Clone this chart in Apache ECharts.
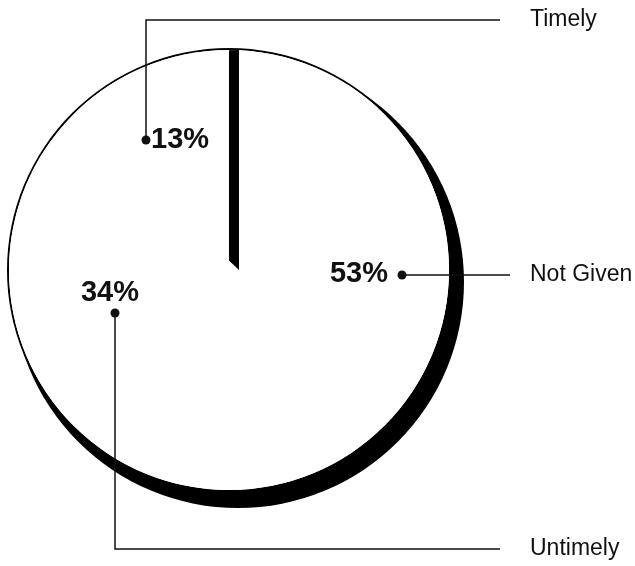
<!DOCTYPE html>
<html>
<head>
<meta charset="utf-8">
<script src="https://cdn.jsdelivr.net/npm/echarts@6/dist/echarts.min.js"></script>
<style>
html,body{margin:0;padding:0;background:#fff;}
#chart{width:635px;height:566px;}
</style>
</head>
<body>
<div id="chart"></div>
<script>
// Data
const categories = ['Not Given', 'Untimely', 'Timely'];
const percents = [53, 34, 13];

// Layout (pixels)
const CX = 229, CY = 270, R = 220;
const dotPos = [[402, 275], [115, 313], [146, 140]];
const nameY = [275, 549, 20];
const lineEndX = [510, 500, 500];
const NAME_X = 530;
const FONT = "'Liberation Sans', Arial, Helvetica, sans-serif";

const chart = echarts.init(document.getElementById('chart'), null, {renderer: 'canvas'});

const pieData = categories.map((c, i) => ({name: c, value: percents[i]}));

function disc(z, center, radius, color, name) {
  return {
    type: 'pie', z: z, silent: true,
    center: center, radius: radius,
    startAngle: 90, clockwise: true,
    label: {show: false}, labelLine: {show: false},
    itemStyle: {color: color, borderWidth: 0},
    emphasis: {disabled: true},
    data: [{name: name, value: 1}]
  };
}

const option = {
  backgroundColor: '#fff',
  animation: false,
  series: [
    disc(1, [CX + 9, CY + 12], R + 6, '#000', 'side'),   // dark side of the disc
    disc(2, [CX, CY], R + 2, '#000', 'outline'),         // outline
    disc(3, [CX, CY], R, '#fff', 'face'),                // white face under slices
    { // main pie with percentage labels
      type: 'pie', z: 4, silent: true,
      center: [CX, CY], radius: R,
      startAngle: 90, clockwise: true,
      avoidLabelOverlap: false,
      emphasis: {disabled: true},
      itemStyle: {color: '#fff', borderWidth: 0},
      label: {
        show: true, position: 'outside',
        formatter: '{c}%',
        fontFamily: FONT, fontSize: 29, fontWeight: 'bold', color: '#111'
      },
      labelLine: {show: false},
      labelLayout: function (p) {
        const d = dotPos[p.dataIndex];
        if (p.dataIndex === 0) return {x: d[0] - 14, y: d[1] - 1, align: 'right', verticalAlign: 'middle'};
        if (p.dataIndex === 1) return {x: d[0] - 5, y: d[1] - 20, align: 'center', verticalAlign: 'middle'};
        return {x: d[0] + 5, y: d[1], align: 'left', verticalAlign: 'middle'};
      },
      data: pieData.map((d, i) => i === 2 ? Object.assign({}, d, {
        itemStyle: {color: '#fff', borderWidth: 0,
          shadowColor: '#000', shadowBlur: 0, shadowOffsetX: 10, shadowOffsetY: 0}
      }) : d)
    },
    { // category names with leader lines
      type: 'pie', z: 5, silent: true,
      center: [CX, CY], radius: R,
      startAngle: 90, clockwise: true,
      avoidLabelOverlap: false,
      emphasis: {disabled: true},
      itemStyle: {color: 'rgba(0,0,0,0)', borderWidth: 0},
      label: {
        show: true, position: 'outside', formatter: '{b}',
        fontFamily: FONT, fontSize: 23, color: '#111'
      },
      labelLine: {show: true, lineStyle: {color: '#111', width: 1.5}},
      labelLayout: function (p) {
        const i = p.dataIndex;
        const d = dotPos[i];
        const pts = [d, [d[0], nameY[i]], [lineEndX[i], nameY[i]]];
        return {x: NAME_X, y: nameY[i], align: 'left', verticalAlign: 'middle', labelLinePoints: pts};
      },
      data: pieData
    }
  ],
  graphic: dotPos.map(d => ({
    type: 'circle', z: 100, silent: true,
    shape: {cx: d[0], cy: d[1], r: 4.5},
    style: {fill: '#111'}
  }))
};
chart.setOption(option);
</script>
</body>
</html>
